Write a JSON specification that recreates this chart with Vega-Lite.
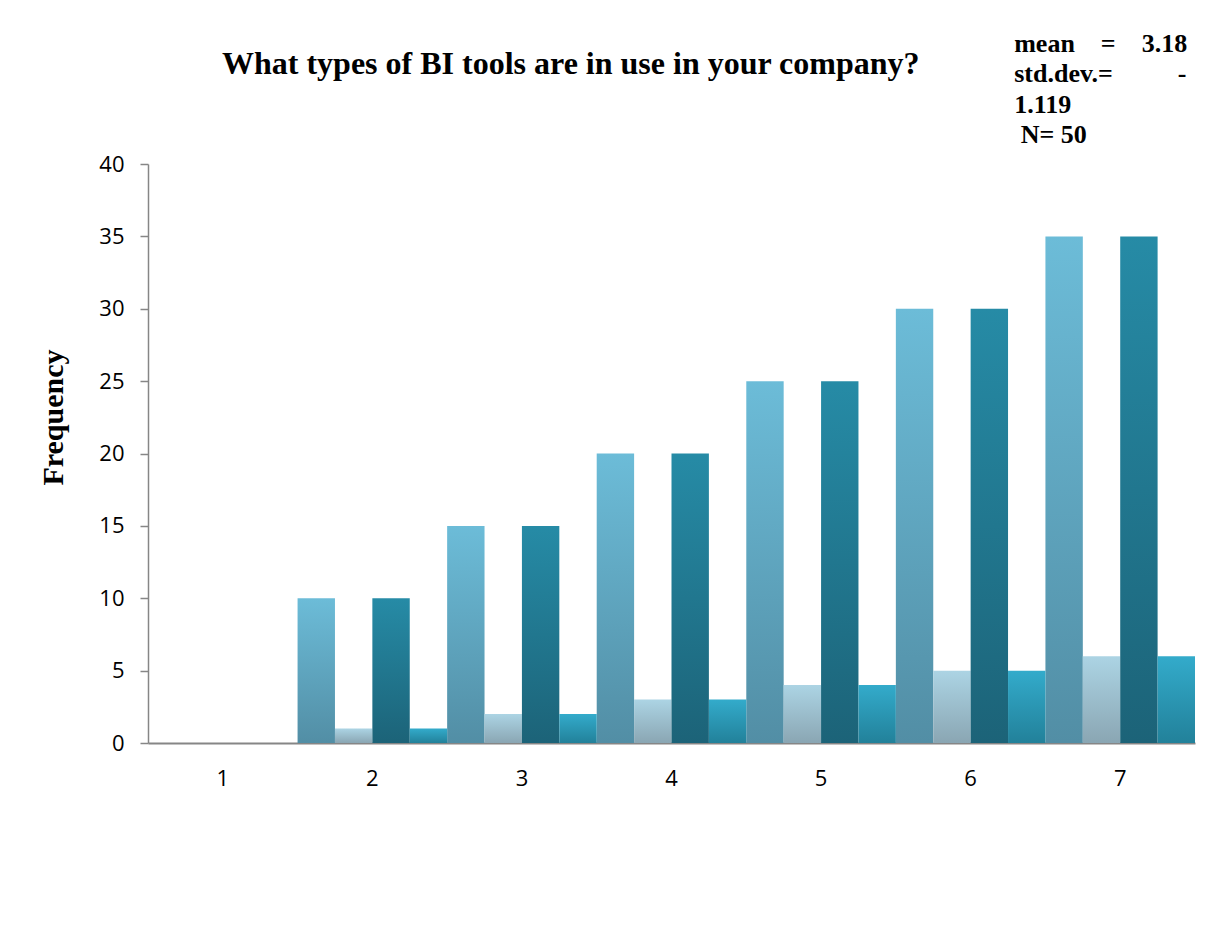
{
  "$schema": "https://vega.github.io/schema/vega-lite/v6.json",
  "width": 1047,
  "height": 579,
  "autosize": {"type": "none"},
  "padding": {"left": 148, "top": 164, "right": 23, "bottom": 185},
  "background": "white",
  "config": {"view": {"stroke": null}},
  "title": {
    "text": "What types of BI tools are in use in your company?",
    "anchor": "start",
    "frame": "group",
    "dx": 74,
    "dy": 75,
    "offset": 0,
    "baseline": "alphabetic",
    "font": "Liberation Serif",
    "fontSize": 32,
    "fontWeight": "bold",
    "color": "black"
  },
  "datasets": {
    "freq": [
      {"category": "1", "series": "S1", "frequency": 0},
      {"category": "1", "series": "S2", "frequency": 0},
      {"category": "1", "series": "S3", "frequency": 0},
      {"category": "1", "series": "S4", "frequency": 0},
      {"category": "2", "series": "S1", "frequency": 10},
      {"category": "2", "series": "S2", "frequency": 1},
      {"category": "2", "series": "S3", "frequency": 10},
      {"category": "2", "series": "S4", "frequency": 1},
      {"category": "3", "series": "S1", "frequency": 15},
      {"category": "3", "series": "S2", "frequency": 2},
      {"category": "3", "series": "S3", "frequency": 15},
      {"category": "3", "series": "S4", "frequency": 2},
      {"category": "4", "series": "S1", "frequency": 20},
      {"category": "4", "series": "S2", "frequency": 3},
      {"category": "4", "series": "S3", "frequency": 20},
      {"category": "4", "series": "S4", "frequency": 3},
      {"category": "5", "series": "S1", "frequency": 25},
      {"category": "5", "series": "S2", "frequency": 4},
      {"category": "5", "series": "S3", "frequency": 25},
      {"category": "5", "series": "S4", "frequency": 4},
      {"category": "6", "series": "S1", "frequency": 30},
      {"category": "6", "series": "S2", "frequency": 5},
      {"category": "6", "series": "S3", "frequency": 30},
      {"category": "6", "series": "S4", "frequency": 5},
      {"category": "7", "series": "S1", "frequency": 35},
      {"category": "7", "series": "S2", "frequency": 6},
      {"category": "7", "series": "S3", "frequency": 35},
      {"category": "7", "series": "S4", "frequency": 6}
    ],
    "stats": [
      {"summary": "stats"}
    ]
  },
  "layer": [
    {
      "data": {"name": "freq"},
      "encoding": {
        "x": {
          "field": "category",
          "type": "ordinal",
          "scale": {"paddingInner": 0, "paddingOuter": 0},
          "axis": {
            "title": null,
            "labelAngle": 0,
            "ticks": false,
            "tickSize": 0,
            "domainColor": "#868686",
            "domainWidth": 2,
            "labelFont": "Open Sans",
            "labelFontSize": 22,
            "labelColor": "black",
            "labelPadding": 25,
            "labelBaseline": "top"
          }
        },
        "xOffset": {
          "field": "series",
          "type": "nominal",
          "scale": {"domain": ["S1", "S2", "S3", "S4"], "paddingInner": 0, "paddingOuter": 0}
        },
        "y": {
          "field": "frequency",
          "type": "quantitative",
          "scale": {"domain": [0, 40], "nice": false},
          "axis": {
            "title": "Frequency",
            "values": [0, 5, 10, 15, 20, 25, 30, 35, 40],
            "grid": false,
            "domainColor": "#868686",
            "domainWidth": 1.5,
            "tickColor": "#868686",
            "tickSize": 8,
            "tickWidth": 1.5,
            "labelFont": "Open Sans",
            "labelFontSize": 22,
            "labelColor": "black",
            "labelPadding": 16,
            "titleFont": "Liberation Serif",
            "titleFontSize": 30,
            "titleFontWeight": "bold",
            "titleColor": "black",
            "titleAngle": -90,
            "titleAlign": "center",
            "titleBaseline": "alphabetic",
            "titleX": -86,
            "titleY": 253
          }
        }
      },
      "layer": [
        {
          "transform": [{"filter": "datum.series === 'S1'"}],
          "mark": {"type": "bar", "color": {"gradient": "linear", "x1": 0, "y1": 0, "x2": 0, "y2": 1, "stops": [{"offset": 0, "color": "#6cbcd8"}, {"offset": 1, "color": "#528ea5"}]}}
        },
        {
          "transform": [{"filter": "datum.series === 'S2'"}],
          "mark": {"type": "bar", "color": {"gradient": "linear", "x1": 0, "y1": 0, "x2": 0, "y2": 1, "stops": [{"offset": 0, "color": "#acd4e4"}, {"offset": 1, "color": "#8aa6b3"}]}}
        },
        {
          "transform": [{"filter": "datum.series === 'S3'"}],
          "mark": {"type": "bar", "color": {"gradient": "linear", "x1": 0, "y1": 0, "x2": 0, "y2": 1, "stops": [{"offset": 0, "color": "#268ba6"}, {"offset": 1, "color": "#1c6378"}]}}
        },
        {
          "transform": [{"filter": "datum.series === 'S4'"}],
          "mark": {"type": "bar", "color": {"gradient": "linear", "x1": 0, "y1": 0, "x2": 0, "y2": 1, "stops": [{"offset": 0, "color": "#33abcb"}, {"offset": 1, "color": "#22819a"}]}}
        }
      ]
    },
    {
      "data": {"name": "stats"},
      "mark": {
        "type": "text",
        "align": "left",
        "baseline": "alphabetic",
        "dx": -106,
        "font": "Liberation Serif",
        "fontSize": 26,
        "fontWeight": "bold",
        "lineHeight": 30.3,
        "color": "black"
      },
      "encoding": {
        "x": {"datum": "7", "type": "ordinal"},
        "y": {"datum": 47.74, "type": "quantitative", "scale": {"domain": [0, 40], "nice": false}},
        "text": {"value": ["mean\u00a0\u00a0\u00a0\u00a0=\u00a0\u00a0\u00a0\u00a03.18", "std.dev.=\u00a0\u00a0\u00a0\u00a0\u00a0\u00a0\u00a0\u00a0\u00a0\u00a0-", "1.119", "\u200b\u00a0N= 50"]}
      }
    }
  ]
}
